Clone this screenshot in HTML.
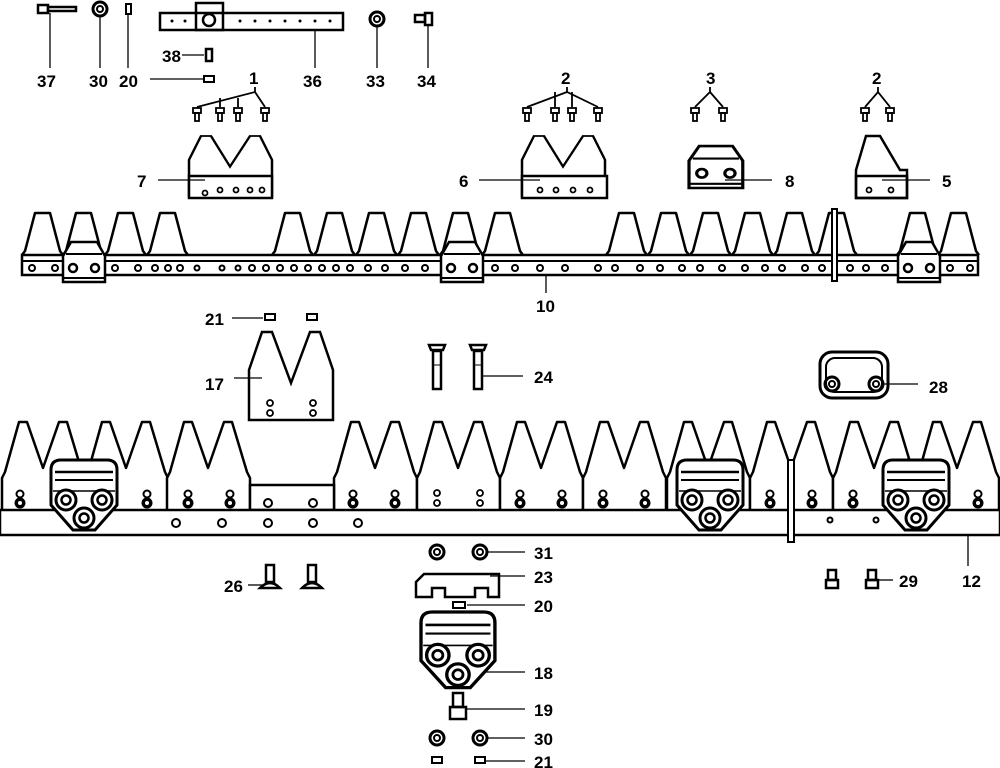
<!DOCTYPE html>
<html><head><meta charset="utf-8"><style>
html,body{margin:0;padding:0;background:#fff;}
svg{display:block;}
text{font-family:"Liberation Sans",sans-serif;font-weight:bold;font-size:17px;fill:#000;}
</style></head><body>
<svg width="1000" height="768" viewBox="0 0 1000 768" xmlns="http://www.w3.org/2000/svg">
<defs>
<path id="secB" d="M0,90 V58 L3,52 L17,2 L25,2 L41,48 L57,2 L65,2 L80,52 L83,58 V90" fill="#fff" stroke="#000" stroke-width="2.5" stroke-linejoin="round"/>
<path id="secM" d="M0,90 V35 L12,0 L22,0 L41,45 L61,0 L71,0 L83,35 V90" fill="#fff" stroke="#000" stroke-width="2.5"/>
<path id="tS" d="M0,42 L3,38 L13,0 L28,0 L38,38 L41,42" fill="#fff" stroke="#000" stroke-width="2.5" stroke-linejoin="round"/>
<g id="clipB">
<path d="M0,10 Q0,0 10,0 H56 Q66,0 66,10 V45 L44,70 H22 L0,45 Z" fill="#fff" stroke="#000" stroke-width="3"/>
<line x1="4" y1="12" x2="62" y2="12" stroke="#000" stroke-width="2.5"/>
<line x1="4" y1="20" x2="62" y2="20" stroke="#000" stroke-width="2"/>
<line x1="2" y1="31" x2="64" y2="31" stroke="#000" stroke-width="1.5"/>
<circle cx="15" cy="40" r="10" fill="#fff" stroke="#000" stroke-width="3"/><circle cx="15" cy="40" r="4.5" fill="none" stroke="#000" stroke-width="2.5"/>
<circle cx="51" cy="40" r="10" fill="#fff" stroke="#000" stroke-width="3"/><circle cx="51" cy="40" r="4.5" fill="none" stroke="#000" stroke-width="2.5"/>
<circle cx="33" cy="58" r="10" fill="#fff" stroke="#000" stroke-width="3"/><circle cx="33" cy="58" r="4.5" fill="none" stroke="#000" stroke-width="2.5"/>
</g>
<g id="clipS">
<path d="M8,0 H34 L42,14 V40 H0 V14 Z" fill="#fff" stroke="#000" stroke-width="2.5"/>
<line x1="3" y1="12" x2="39" y2="12" stroke="#000" stroke-width="2"/>
<line x1="0" y1="36" x2="42" y2="36" stroke="#000" stroke-width="2"/>
<circle cx="10" cy="26" r="4" fill="none" stroke="#000" stroke-width="2.5"/>
<circle cx="32" cy="26" r="4" fill="none" stroke="#000" stroke-width="2.5"/>
</g>
<g id="nut"><circle r="5.5" fill="#000"/><circle r="2" fill="#fff"/><circle cy="-9" r="3.5" fill="#fff" stroke="#000" stroke-width="2"/></g>
<g id="smallbolt"><rect x="-4" y="0" width="8" height="5" fill="none" stroke="#000" stroke-width="1.8"/><rect x="-2" y="5" width="4" height="8" fill="none" stroke="#000" stroke-width="1.8"/></g>
<g id="washer"><circle r="7" fill="none" stroke="#000" stroke-width="3"/><circle r="3" fill="none" stroke="#000" stroke-width="2"/></g>
<g id="tall"><path d="M-8,0 H8 L6,5 H-6 Z" fill="none" stroke="#000" stroke-width="2.5"/><rect x="-4" y="6" width="8" height="38" fill="none" stroke="#000" stroke-width="2.5"/><line x1="-4" y1="20" x2="4" y2="20" stroke="#000"/></g>
</defs>

<!-- top parts -->
<rect x="38" y="5" width="10" height="8" fill="none" stroke="#000" stroke-width="2.5"/>
<rect x="48" y="7" width="28" height="4" fill="none" stroke="#000" stroke-width="2.5"/>
<use href="#washer" x="100" y="9"/>
<rect x="126" y="4" width="5" height="10" fill="none" stroke="#000" stroke-width="2"/>
<rect x="160" y="13" width="183" height="17" fill="none" stroke="#000" stroke-width="2.5"/>
<rect x="196" y="3" width="27" height="27" fill="none" stroke="#000" stroke-width="2.5"/>
<circle cx="209" cy="20" r="6" fill="none" stroke="#000" stroke-width="2.5"/>
<g fill="#000"><circle cx="172" cy="21" r="1.5"/><circle cx="185" cy="21" r="1.5"/><circle cx="240" cy="21" r="1.5"/><circle cx="255" cy="21" r="1.5"/><circle cx="270" cy="21" r="1.5"/><circle cx="285" cy="21" r="1.5"/><circle cx="300" cy="21" r="1.5"/><circle cx="315" cy="21" r="1.5"/><circle cx="330" cy="21" r="1.5"/></g>
<use href="#washer" x="377" y="19"/>
<rect x="415" y="15" width="10" height="7" fill="none" stroke="#000" stroke-width="2.5"/>
<rect x="425" y="13" width="7" height="12" fill="none" stroke="#000" stroke-width="2.5"/>
<rect x="206" y="49" width="6" height="12" fill="none" stroke="#000" stroke-width="2.5"/>
<rect x="204" y="76" width="10" height="6" fill="none" stroke="#000" stroke-width="2"/>
<g stroke="#000" stroke-width="1.3">
<line x1="50" y1="13" x2="50" y2="68"/><line x1="100" y1="16" x2="100" y2="68"/><line x1="128" y1="14" x2="128" y2="68"/>
<line x1="315" y1="30" x2="315" y2="68"/><line x1="377" y1="26" x2="377" y2="68"/><line x1="428" y1="25" x2="428" y2="68"/>
<line x1="182" y1="55" x2="204" y2="55"/><line x1="150" y1="79" x2="204" y2="79"/></g>
<text x="37" y="87">37</text><text x="89" y="87">30</text><text x="119" y="87">20</text><text x="303" y="87">36</text><text x="366" y="87">33</text><text x="417" y="87">34</text><text x="162" y="62">38</text>

<!-- bolt groups -->
<g stroke="#000" fill="none" stroke-width="1.8">
<path d="M197,107 L255,92 L265,107 M220,107 V98 M238,107 V98 M255,92 V87"/>
<path d="M527,107 L567,92 L598,107 M555,107 V92 M572,107 V92 M567,92 V87"/>
<path d="M695,107 L710,92 L723,107 M710,92 V87"/>
<path d="M865,107 L878,92 L890,107 M878,92 V87"/>
</g>
<g><use href="#smallbolt" x="197" y="108"/><use href="#smallbolt" x="220" y="108"/><use href="#smallbolt" x="238" y="108"/><use href="#smallbolt" x="265" y="108"/>
<use href="#smallbolt" x="527" y="108"/><use href="#smallbolt" x="555" y="108"/><use href="#smallbolt" x="572" y="108"/><use href="#smallbolt" x="598" y="108"/>
<use href="#smallbolt" x="695" y="108"/><use href="#smallbolt" x="723" y="108"/><use href="#smallbolt" x="865" y="108"/><use href="#smallbolt" x="890" y="108"/></g>
<text x="249" y="84">1</text><text x="561" y="84">2</text><text x="706" y="84">3</text><text x="872" y="84">2</text>

<!-- parts 7,6,8,5 -->
<use href="#secM" transform="translate(189,136) scale(1,0.68)"/>
<rect x="189" y="176" width="83" height="22" fill="#fff" stroke="#000" stroke-width="2.5"/>
<use href="#secM" transform="translate(522,136) scale(1,0.68)"/>
<rect x="522" y="176" width="85" height="22" fill="#fff" stroke="#000" stroke-width="2.5"/>
<path d="M856,198 V170 L866,136 H880 L900,170 H907 V198 Z" fill="#fff" stroke="#000" stroke-width="2.5"/>
<rect x="856" y="176" width="51" height="22" fill="none" stroke="#000" stroke-width="2.5"/>
<g fill="none" stroke="#000" stroke-width="1.8"><circle cx="205" cy="193" r="2.5"/><circle cx="220" cy="190" r="2.5"/><circle cx="236" cy="190" r="2.5"/><circle cx="250" cy="190" r="2.5"/><circle cx="262" cy="190" r="2.5"/><circle cx="540" cy="190" r="2.5"/><circle cx="556" cy="190" r="2.5"/><circle cx="573" cy="190" r="2.5"/><circle cx="590" cy="190" r="2.5"/><circle cx="869" cy="190" r="2.5"/><circle cx="891" cy="190" r="2.5"/></g>
<use href="#clipS" transform="translate(689,146) scale(1.28,1.05)"/>
<g stroke="#000" stroke-width="1.3">
<line x1="158" y1="180" x2="205" y2="180"/><line x1="479" y1="180" x2="540" y2="180"/>
<line x1="725" y1="180" x2="772" y2="180"/><line x1="882" y1="180" x2="930" y2="180"/></g>
<text x="137" y="187">7</text><text x="459" y="187">6</text><text x="785" y="187">8</text><text x="942" y="187">5</text>

<!-- bar 10 -->
<g transform="translate(0,213)">
<use href="#tS" x="22"/><use href="#tS" x="63"/><use href="#tS" x="105"/><use href="#tS" x="147"/>
<use href="#tS" x="272"/><use href="#tS" x="314"/><use href="#tS" x="356"/><use href="#tS" x="398"/><use href="#tS" x="440"/><use href="#tS" x="482"/>
<use href="#tS" x="606"/><use href="#tS" x="648"/><use href="#tS" x="690"/><use href="#tS" x="732"/><use href="#tS" x="774"/><use href="#tS" x="816"/>
<use href="#tS" x="897"/><use href="#tS" x="938"/>
</g>
<rect x="22" y="255" width="956" height="20" fill="#fff" stroke="#000" stroke-width="2.5"/>
<line x1="22" y1="261" x2="978" y2="261" stroke="#000" stroke-width="2"/>
<g fill="none" stroke="#000" stroke-width="2">
<circle cx="32" cy="268" r="3"/><circle cx="55" cy="268" r="3"/><circle cx="115" cy="268" r="3"/><circle cx="138" cy="268" r="3"/><circle cx="155" cy="268" r="3"/><circle cx="168" cy="268" r="3"/><circle cx="180" cy="268" r="3"/><circle cx="197" cy="268" r="2.5"/><circle cx="222" cy="268" r="2.5"/><circle cx="238" cy="268" r="2.5"/><circle cx="252" cy="268" r="3"/><circle cx="266" cy="268" r="3"/><circle cx="280" cy="268" r="3"/><circle cx="294" cy="268" r="3"/><circle cx="308" cy="268" r="3"/><circle cx="322" cy="268" r="3"/><circle cx="336" cy="268" r="3"/><circle cx="350" cy="268" r="3"/><circle cx="368" cy="268" r="3"/><circle cx="385" cy="268" r="3"/><circle cx="405" cy="268" r="3"/><circle cx="425" cy="268" r="3"/><circle cx="495" cy="268" r="3"/><circle cx="515" cy="268" r="3"/><circle cx="540" cy="268" r="3"/><circle cx="565" cy="268" r="3"/><circle cx="598" cy="268" r="3"/><circle cx="615" cy="268" r="3"/><circle cx="640" cy="268" r="3"/><circle cx="660" cy="268" r="3"/><circle cx="682" cy="268" r="3"/><circle cx="700" cy="268" r="3"/><circle cx="722" cy="268" r="3"/><circle cx="745" cy="268" r="3"/><circle cx="765" cy="268" r="3"/><circle cx="782" cy="268" r="3"/><circle cx="805" cy="268" r="3"/><circle cx="822" cy="268" r="3"/><circle cx="850" cy="268" r="3"/><circle cx="866" cy="268" r="3"/><circle cx="885" cy="268" r="3"/><circle cx="950" cy="268" r="3"/><circle cx="970" cy="268" r="3"/>
</g>
<use href="#clipS" x="63" y="242"/><use href="#clipS" x="441" y="242"/><use href="#clipS" x="898" y="242"/>
<rect x="832" y="209" width="5" height="72" fill="#fff" stroke="#000" stroke-width="2"/>
<line x1="546" y1="275" x2="546" y2="293" stroke="#000" stroke-width="1.3"/>
<text x="536" y="312">10</text>

<!-- 21, 17 -->
<text x="205" y="325">21</text><line x1="232" y1="318" x2="263" y2="318" stroke="#000" stroke-width="1.3"/>
<rect x="265" y="314" width="10" height="6" fill="none" stroke="#000" stroke-width="2"/>
<rect x="307" y="314" width="10" height="6" fill="none" stroke="#000" stroke-width="2"/>
<path d="M249,420 V370 L262,332 H272 L291,383 L310,332 H320 L333,370 V420 Z" fill="#fff" stroke="#000" stroke-width="2.5"/>
<g fill="none" stroke="#000" stroke-width="1.8"><circle cx="270" cy="403" r="3"/><circle cx="270" cy="413" r="3"/><circle cx="313" cy="403" r="3"/><circle cx="313" cy="413" r="3"/></g>
<line x1="234" y1="378" x2="262" y2="378" stroke="#000" stroke-width="1.3"/><text x="205" y="390">17</text>

<!-- 24 -->
<use href="#tall" x="437" y="345"/><use href="#tall" x="478" y="345"/>
<line x1="482" y1="376" x2="523" y2="376" stroke="#000" stroke-width="1.3"/><text x="534" y="383">24</text>

<!-- 28 -->
<rect x="820" y="352" width="68" height="46" rx="12" fill="#fff" stroke="#000" stroke-width="3"/>
<rect x="826" y="358" width="56" height="34" rx="9" fill="none" stroke="#000" stroke-width="2"/>
<use href="#washer" x="832" y="384"/><use href="#washer" x="876" y="384"/>
<line x1="883" y1="384" x2="918" y2="384" stroke="#000" stroke-width="1.3"/><text x="929" y="393">28</text>

<!-- big bar 12 -->
<g>
<use href="#secB" x="2" y="420"/><use href="#secB" x="85" y="420"/><use href="#secB" x="167" y="420"/>
<use href="#secB" x="334" y="420"/><use href="#secB" x="417" y="420"/><use href="#secB" x="500" y="420"/><use href="#secB" x="583" y="420"/><use href="#secB" x="667" y="420"/><use href="#secB" x="750" y="420"/><use href="#secB" x="833" y="420"/><use href="#secB" x="916" y="420"/>
</g>
<rect x="250" y="485" width="84" height="25" fill="#fff" stroke="#000" stroke-width="2.5"/>
<rect x="0" y="510" width="1000" height="25" fill="#fff" stroke="#000" stroke-width="2.5"/>
<g fill="none" stroke="#000" stroke-width="2">
<circle cx="268" cy="503" r="4"/><circle cx="313" cy="503" r="4"/>
<circle cx="176" cy="523" r="4"/><circle cx="222" cy="523" r="4"/><circle cx="268" cy="523" r="4"/><circle cx="313" cy="523" r="4"/><circle cx="358" cy="523" r="4"/>
<circle cx="830" cy="520" r="2.5"/><circle cx="876" cy="520" r="2.5"/>
</g>
<g>
<use href="#nut" x="20" y="503"/><use href="#nut" x="147" y="503"/><use href="#nut" x="188" y="503"/><use href="#nut" x="230" y="503"/><use href="#nut" x="353" y="503"/><use href="#nut" x="395" y="503"/><use href="#nut" x="520" y="503"/><use href="#nut" x="562" y="503"/><use href="#nut" x="603" y="503"/><use href="#nut" x="645" y="503"/><use href="#nut" x="770" y="503"/><use href="#nut" x="812" y="503"/><use href="#nut" x="853" y="503"/><use href="#nut" x="978" y="503"/>
</g>
<g fill="none" stroke="#000" stroke-width="1.8"><circle cx="437" cy="503" r="3"/><circle cx="437" cy="493" r="3"/><circle cx="480" cy="503" r="3"/><circle cx="480" cy="493" r="3"/></g>
<use href="#clipB" x="51" y="460"/><use href="#clipB" x="677" y="460"/><use href="#clipB" x="883" y="460"/>
<rect x="788" y="460" width="6" height="82" fill="#fff" stroke="#000" stroke-width="2"/>
<line x1="968" y1="535" x2="968" y2="566" stroke="#000" stroke-width="1.3"/><text x="962" y="587">12</text>

<!-- bottom parts -->
<use href="#washer" x="437" y="552"/><use href="#washer" x="480" y="552"/>
<line x1="487" y1="552" x2="525" y2="552" stroke="#000" stroke-width="1.3"/><text x="534" y="559">31</text>
<path d="M416,597 V582 L424,574 H499 V597 H488 V588 H475 V597 H445 V588 H432 V597 Z" fill="#fff" stroke="#000" stroke-width="2.5"/>
<line x1="490" y1="576" x2="525" y2="576" stroke="#000" stroke-width="1.3"/><text x="534" y="583">23</text>
<rect x="453" y="602" width="12" height="6" fill="none" stroke="#000" stroke-width="2"/>
<line x1="467" y1="605" x2="525" y2="605" stroke="#000" stroke-width="1.3"/><text x="534" y="612">20</text>
<use href="#clipB" transform="translate(421,612) scale(1.12,1.08)"/>
<line x1="484" y1="672" x2="525" y2="672" stroke="#000" stroke-width="1.3"/><text x="534" y="679">18</text>
<rect x="453" y="693" width="10" height="14" fill="none" stroke="#000" stroke-width="2.5"/>
<rect x="450" y="707" width="16" height="12" fill="none" stroke="#000" stroke-width="2.5"/>
<line x1="466" y1="709" x2="525" y2="709" stroke="#000" stroke-width="1.3"/><text x="534" y="716">19</text>
<use href="#washer" x="437" y="738"/><use href="#washer" x="480" y="738"/>
<line x1="487" y1="738" x2="525" y2="738" stroke="#000" stroke-width="1.3"/><text x="534" y="745">30</text>
<rect x="432" y="757" width="10" height="6" fill="none" stroke="#000" stroke-width="2"/>
<rect x="475" y="757" width="10" height="6" fill="none" stroke="#000" stroke-width="2"/>
<line x1="486" y1="761" x2="525" y2="761" stroke="#000" stroke-width="1.3"/><text x="534" y="768">21</text>

<!-- 26 -->
<g fill="none" stroke="#000" stroke-width="2.5">
<rect x="266" y="565" width="8" height="17"/><path d="M260,588 Q270,578 280,588 Z"/>
<rect x="308" y="565" width="8" height="17"/><path d="M302,588 Q312,578 322,588 Z"/>
</g>
<line x1="248" y1="585" x2="262" y2="585" stroke="#000" stroke-width="1.3"/><text x="224" y="592">26</text>
<!-- 29 -->
<g fill="none" stroke="#000" stroke-width="2.5">
<rect x="828" y="570" width="8" height="10"/><rect x="826" y="580" width="12" height="8"/>
<rect x="868" y="570" width="8" height="10"/><rect x="866" y="580" width="12" height="8"/>
</g>
<line x1="878" y1="580" x2="893" y2="580" stroke="#000" stroke-width="1.3"/><text x="899" y="587">29</text>
</svg>
</body></html>
